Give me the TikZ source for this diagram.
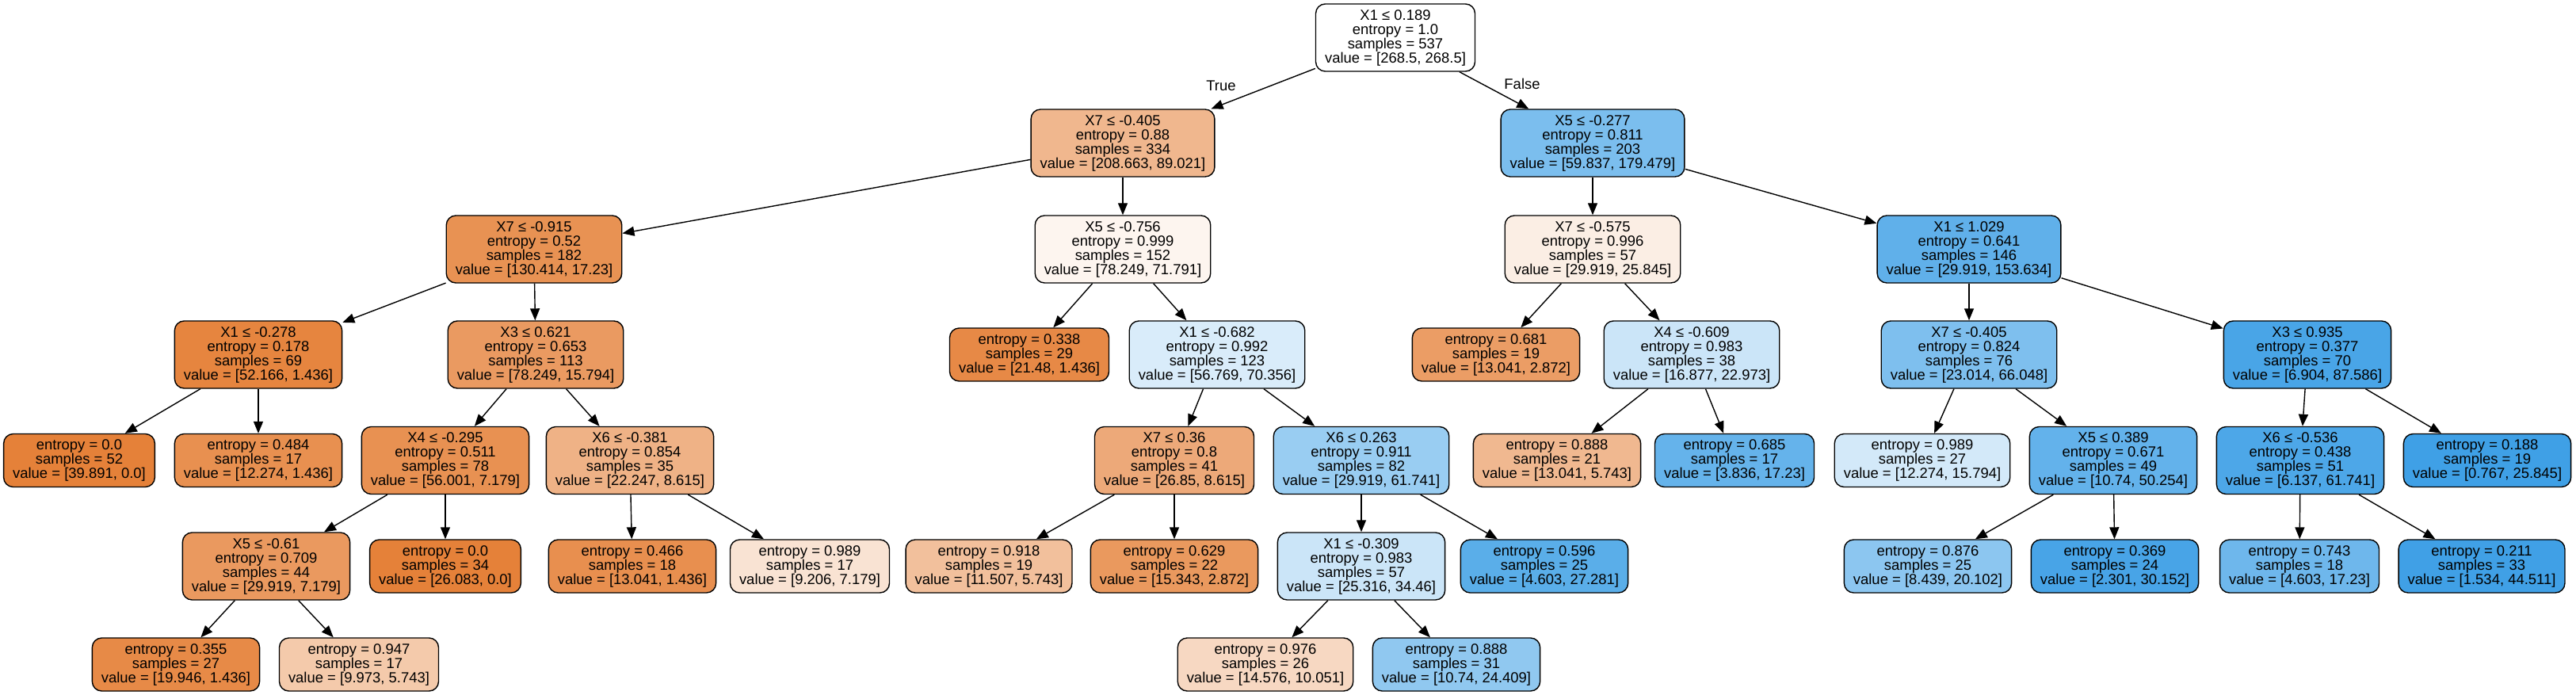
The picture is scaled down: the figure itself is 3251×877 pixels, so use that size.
\documentclass[tikz,border=0pt]{standalone}
\usepackage{fontspec}
\setmainfont{Liberation Sans}
\usetikzlibrary{arrows.meta}
\definecolor{cO}{RGB}{229,129,57}
\definecolor{cB}{RGB}{57,157,229}
\begin{document}
\begin{tikzpicture}[x=1pt,y=-1pt,
  tn/.style={draw=black, line width=1.4pt, rounded corners=12pt, inner xsep=11.5pt, inner ysep=2pt,
    align=center, font=\fontsize{18.45}{18}\selectfont, minimum height=85pt},
  lf/.style={tn, minimum height=67pt},
  lbl/.style={font=\fontsize{18.45}{18}\selectfont, inner sep=0pt},
  edge/.style={line width=1.4pt, -{Triangle[length=15pt,width=12pt]}}]
\useasboundingbox (0,0) rectangle (3251,877);
% level 0
\node[tn, fill=white] (n0) at (1761,47.5) {X1 ≤ 0.189\\entropy = 1.0\\samples = 537\\value = [268.5, 268.5]};
% level 1
\node[tn, fill=cO!57.3!white] (n1) at (1417,180.5) {X7 ≤ -0.405\\entropy = 0.88\\samples = 334\\value = [208.663, 89.021]};
\node[tn, fill=cB!66.7!white] (n2) at (2010,180.5) {X5 ≤ -0.277\\entropy = 0.811\\samples = 203\\value = [59.837, 179.479]};
% level 2
\node[tn, fill=cO!86.8!white] (n3) at (674,314.5) {X7 ≤ -0.915\\entropy = 0.52\\samples = 182\\value = [130.414, 17.23]};
\node[tn, fill=cO!8.3!white] (n4) at (1417,314.5) {X5 ≤ -0.756\\entropy = 0.999\\samples = 152\\value = [78.249, 71.791]};
\node[tn, fill=cO!13.6!white] (n5) at (2010,314.5) {X7 ≤ -0.575\\entropy = 0.996\\samples = 57\\value = [29.919, 25.845]};
\node[tn, fill=cB!80.5!white] (n6) at (2485,314.5) {X1 ≤ 1.029\\entropy = 0.641\\samples = 146\\value = [29.919, 153.634]};
% level 3
\node[tn, fill=cO!97.2!white] (n7) at (326,447.5) {X1 ≤ -0.278\\entropy = 0.178\\samples = 69\\value = [52.166, 1.436]};
\node[tn, fill=cO!79.8!white] (n8) at (676,447.5) {X3 ≤ 0.621\\entropy = 0.653\\samples = 113\\value = [78.249, 15.794]};
\node[lf, fill=cO!93.3!white] (n9) at (1299,447.5) {entropy = 0.338\\samples = 29\\value = [21.48, 1.436]};
\node[tn, fill=cB!19.3!white] (n10) at (1536,447.5) {X1 ≤ -0.682\\entropy = 0.992\\samples = 123\\value = [56.769, 70.356]};
\node[lf, fill=cO!78.0!white] (n11) at (1888,447.5) {entropy = 0.681\\samples = 19\\value = [13.041, 2.872]};
\node[tn, fill=cB!26.5!white] (n12) at (2135,447.5) {X4 ≤ -0.609\\entropy = 0.983\\samples = 38\\value = [16.877, 22.973]};
\node[tn, fill=cB!65.2!white] (n13) at (2485,447.5) {X7 ≤ -0.405\\entropy = 0.824\\samples = 76\\value = [23.014, 66.048]};
\node[tn, fill=cB!92.1!white] (n14) at (2912,447.5) {X3 ≤ 0.935\\entropy = 0.377\\samples = 70\\value = [6.904, 87.586]};
% level 4
\node[lf, fill=cO] (n15) at (100,581) {entropy = 0.0\\samples = 52\\value = [39.891, 0.0]};
\node[lf, fill=cO!88.3!white] (n16) at (326,581) {entropy = 0.484\\samples = 17\\value = [12.274, 1.436]};
\node[tn, fill=cO!87.2!white] (n17) at (562,581) {X4 ≤ -0.295\\entropy = 0.511\\samples = 78\\value = [56.001, 7.179]};
\node[tn, fill=cO!61.3!white] (n18) at (795,581) {X6 ≤ -0.381\\entropy = 0.854\\samples = 35\\value = [22.247, 8.615]};
\node[tn, fill=cO!67.9!white] (n19) at (1482,581) {X7 ≤ 0.36\\entropy = 0.8\\samples = 41\\value = [26.85, 8.615]};
\node[tn, fill=cB!51.5!white] (n20) at (1718,581) {X6 ≤ 0.263\\entropy = 0.911\\samples = 82\\value = [29.919, 61.741]};
\node[lf, fill=cO!56.0!white] (n21) at (1965,581) {entropy = 0.888\\samples = 21\\value = [13.041, 5.743]};
\node[lf, fill=cB!77.7!white] (n22) at (2189,581) {entropy = 0.685\\samples = 17\\value = [3.836, 17.23]};
\node[lf, fill=cB!22.3!white] (n23) at (2426,581) {entropy = 0.989\\samples = 27\\value = [12.274, 15.794]};
\node[tn, fill=cB!78.6!white] (n24) at (2667,581) {X5 ≤ 0.389\\entropy = 0.671\\samples = 49\\value = [10.74, 50.254]};
\node[tn, fill=cB!90.1!white] (n25) at (2903,581) {X6 ≤ -0.536\\entropy = 0.438\\samples = 51\\value = [6.137, 61.741]};
\node[lf, fill=cB!97.0!white] (n26) at (3139,581) {entropy = 0.188\\samples = 19\\value = [0.767, 25.845]};
% level 5
\node[tn, fill=cO!80.8!white] (n27) at (336,714.5) {X5 ≤ -0.61\\entropy = 0.709\\samples = 44\\value = [29.919, 7.179]};
\node[lf, fill=cO] (n28) at (562,714.5) {entropy = 0.0\\samples = 34\\value = [26.083, 0.0]};
\node[lf, fill=cO!89.0!white] (n29) at (798,714.5) {entropy = 0.466\\samples = 18\\value = [13.041, 1.436]};
\node[lf, fill=cO!22.0!white] (n30) at (1022,714.5) {entropy = 0.989\\samples = 17\\value = [9.206, 7.179]};
\node[lf, fill=cO!50.1!white] (n31) at (1248,714.5) {entropy = 0.918\\samples = 19\\value = [11.507, 5.743]};
\node[lf, fill=cO!81.3!white] (n32) at (1482,714.5) {entropy = 0.629\\samples = 22\\value = [15.343, 2.872]};
\node[tn, fill=cB!26.5!white] (n33) at (1718,714.5) {X1 ≤ -0.309\\entropy = 0.983\\samples = 57\\value = [25.316, 34.46]};
\node[lf, fill=cB!83.1!white] (n34) at (1949,714.5) {entropy = 0.596\\samples = 25\\value = [4.603, 27.281]};
\node[lf, fill=cB!58.0!white] (n35) at (2433,714.5) {entropy = 0.876\\samples = 25\\value = [8.439, 20.102]};
\node[lf, fill=cB!92.4!white] (n36) at (2669,714.5) {entropy = 0.369\\samples = 24\\value = [2.301, 30.152]};
\node[lf, fill=cB!73.3!white] (n37) at (2902,714.5) {entropy = 0.743\\samples = 18\\value = [4.603, 17.23]};
\node[lf, fill=cB!96.6!white] (n38) at (3132,714.5) {entropy = 0.211\\samples = 33\\value = [1.534, 44.511]};
% level 6
\node[lf, fill=cO!92.8!white] (n39) at (222,838.5) {entropy = 0.355\\samples = 27\\value = [19.946, 1.436]};
\node[lf, fill=cO!42.4!white] (n40) at (453,838.5) {entropy = 0.947\\samples = 17\\value = [9.973, 5.743]};
\node[lf, fill=cO!31.0!white] (n41) at (1597,838.5) {entropy = 0.976\\samples = 26\\value = [14.576, 10.051]};
\node[lf, fill=cB!56.0!white] (n42) at (1838,838.5) {entropy = 0.888\\samples = 31\\value = [10.74, 24.409]};
% edge labels
\node[lbl] (tlab) at (1541,108) {True};
\node[lbl] (flab) at (1921,106) {False};
% edges
\foreach \a/\b in {n0/n1,n0/n2,n1/n3,n1/n4,n2/n5,n2/n6,n3/n7,n3/n8,n4/n9,n4/n10,n5/n11,n5/n12,
  n6/n13,n6/n14,n7/n15,n7/n16,n8/n17,n8/n18,n10/n19,n10/n20,n12/n21,n12/n22,n13/n23,n13/n24,
  n14/n25,n14/n26,n17/n27,n17/n28,n18/n29,n18/n30,n19/n31,n19/n32,n20/n33,n20/n34,n24/n35,
  n24/n36,n25/n37,n25/n38,n27/n39,n27/n40,n33/n41,n33/n42}
  \draw[edge] (\a) -- (\b);
\end{tikzpicture}
\end{document}
